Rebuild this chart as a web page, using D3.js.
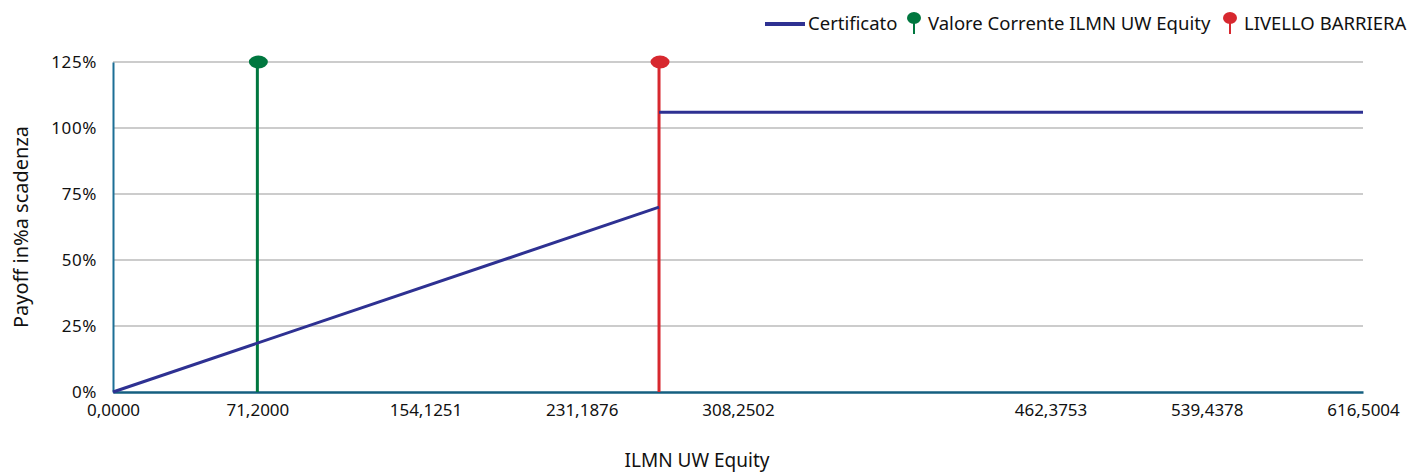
<!DOCTYPE html>
<html>
<head>
<meta charset="utf-8">
<script src="https://cdn.jsdelivr.net/npm/d3@7"></script>
<style>
  body { margin: 0; background: #fff; }
  text { font-family: "Noto Sans", sans-serif; fill: #111; }
</style>
</head>
<body>
<div id="container"></div>
<script>
// Payoff profile (x = underlying price, y = payoff in %)
const payoffLow = [[0, 0], [269.3, 70]];
const payoffHigh = [[269.3, 106], [616.5004, 106]];
const currentValue = 71.2;
const barrierLevel = 269.3;

const xTicks = [0, 71.2, 154.1251, 231.1876, 308.2502, 462.3753, 539.4378, 616.5004];
const yTicks = [0, 25, 50, 75, 100, 125];

const legendItems = [
  { label: "Certificato", type: "line", color: "#2e3192" },
  { label: "Valore Corrente ILMN UW Equity", type: "pin", color: "#00773f" },
  { label: "LIVELLO BARRIERA", type: "pin", color: "#d7282f" },
];

const width = 1412;
const height = 473;
const margin = { top: 62, right: 49, bottom: 81, left: 113 };

const svg = d3.select("#container")
  .append("svg")
  .attr("width", width)
  .attr("height", height);

const x = d3.scaleLinear()
  .domain([0, 616.5004])
  .range([margin.left, width - margin.right]);

const y = d3.scaleLinear()
  .domain([0, 125])
  .range([height - margin.bottom, margin.top]);

const fmt = d => d.toFixed(4).replace(".", ",");

// gridlines
svg.append("g")
  .selectAll("line")
  .data(yTicks.filter(d => d > 0))
  .join("line")
  .attr("x1", x(0))
  .attr("x2", x(616.5004))
  .attr("y1", d => y(d))
  .attr("y2", d => y(d))
  .attr("stroke", "#9a9a9a")
  .attr("stroke-width", 1.2);

// y axis
const yAxis = svg.append("g")
  .attr("transform", `translate(${margin.left},0)`)
  .call(d3.axisLeft(y).tickValues(yTicks).tickSize(0).tickPadding(16).tickFormat(d => d + "%"));
yAxis.select(".domain").attr("stroke", "#1c6f96").attr("stroke-width", 2);
yAxis.selectAll("text").attr("font-size", 17).attr("letter-spacing", 0.6).style("font-family", "Noto Sans");

// x axis
const xAxis = svg.append("g")
  .attr("transform", `translate(0,${height - margin.bottom})`)
  .call(d3.axisBottom(x).tickValues(xTicks).tickSize(0).tickPadding(12).tickFormat(fmt));
xAxis.select(".domain").attr("stroke", "#155f80").attr("stroke-width", 2.5);
xAxis.selectAll("text").attr("font-size", 17).style("font-family", "Noto Sans");

// axis titles
svg.append("text")
  .attr("x", 697)
  .attr("y", 467)
  .attr("text-anchor", "middle")
  .attr("font-size", 19)
  .text("ILMN UW Equity");

svg.append("text")
  .attr("transform", `translate(28,${y(62.5)}) rotate(-90)`)
  .attr("text-anchor", "middle")
  .attr("font-size", 20)
  .text("Payoff in%a scadenza");

// vertical markers
const markers = [
  { value: currentValue, color: "#00773f" },
  { value: barrierLevel, color: "#d7282f" },
];
const mg = svg.append("g");
mg.selectAll("line")
  .data(markers)
  .join("line")
  .attr("x1", d => x(d.value))
  .attr("x2", d => x(d.value))
  .attr("y1", y(125))
  .attr("y2", y(0))
  .attr("stroke", d => d.color)
  .attr("stroke-width", 3);

// payoff line
const line = d3.line().x(d => x(d[0])).y(d => y(d[1]));
[payoffLow, payoffHigh].forEach(seg => {
  svg.append("path")
    .datum(seg)
    .attr("d", line)
    .attr("fill", "none")
    .attr("stroke", "#2e3192")
    .attr("stroke-width", 3);
});

mg.selectAll("ellipse")
  .data(markers)
  .join("ellipse")
  .attr("cx", d => x(d.value) + 1)
  .attr("cy", y(125))
  .attr("rx", 9.5)
  .attr("ry", 6.5)
  .attr("fill", d => d.color);

// legend
const legend = svg.append("g").attr("transform", "translate(0,24)");
const legendX = [765, 907, 1223];
legendItems.forEach((item, i) => {
  const g = legend.append("g").attr("transform", `translate(${legendX[i]},0)`);
  let tx;
  if (item.type === "line") {
    g.append("rect").attr("x", 0).attr("y", -2).attr("width", 40).attr("height", 4).attr("fill", item.color);
    tx = 43;
  } else {
    g.append("line").attr("x1", 7).attr("x2", 7).attr("y1", -6).attr("y2", 10)
      .attr("stroke", item.color).attr("stroke-width", 2);
    g.append("ellipse").attr("cx", 7).attr("cy", -6).attr("rx", 7).attr("ry", 6).attr("fill", item.color);
    tx = 21;
  }
  g.append("text").attr("x", tx).attr("y", 6).attr("font-size", 18.5).text(item.label);
});
</script>
</body>
</html>
